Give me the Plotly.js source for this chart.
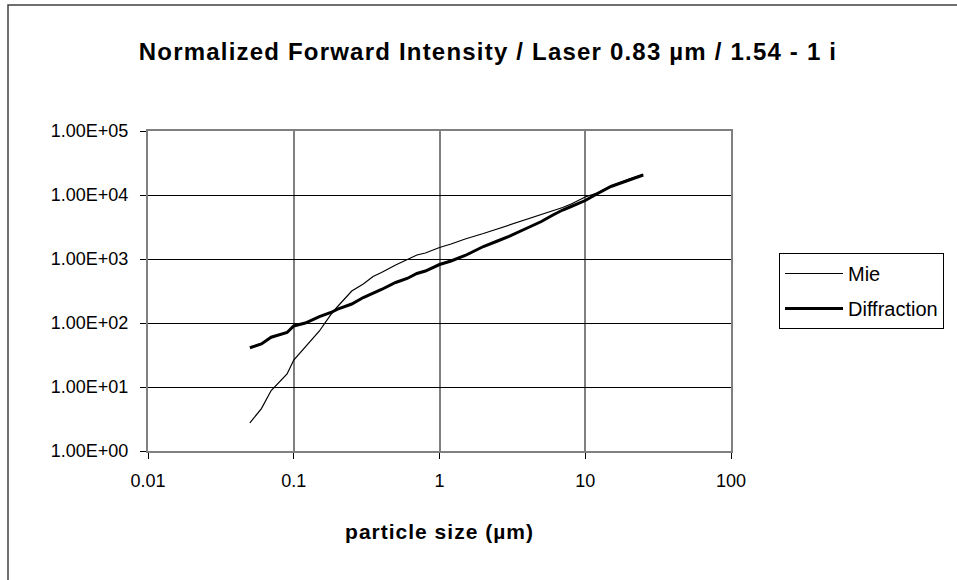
<!DOCTYPE html>
<html>
<head>
<meta charset="utf-8">
<script src="https://cdn.plot.ly/plotly-3.0.1.min.js"></script>
<style>
html,body{margin:0;padding:0;background:#fff;}
#chart{width:957px;height:580px;}
#chart .gtitle{letter-spacing:1.2px;}
#chart .g-xtitle text{letter-spacing:1px;}
</style>
</head>
<body>
<div id="chart"></div>
<script>
// particle size (µm)
var sizes = [0.05, 0.06, 0.07, 0.08, 0.09, 0.1, 0.12, 0.15, 0.18, 0.2, 0.25, 0.3, 0.35, 0.4, 0.5, 0.6, 0.7, 0.8,
             1, 1.2, 1.5, 2, 2.5, 3, 4, 5, 6, 7, 8, 10, 12, 15, 20, 25];
var mie = [2.74, 4.6, 8.8, 12, 16, 26.4, 43, 75, 136, 181, 316, 407, 533, 615, 806, 965, 1155, 1240,
           1513, 1715, 2054, 2500, 2940, 3400, 4140, 4960, 5620, 6380, 7240, 9300, 10730, 13800, 17800, 21000];
var diffraction = [41, 47, 60, 65, 71, 90, 100, 126, 146, 165, 198, 250, 289, 334, 430, 496, 593, 649,
                   820, 931, 1135, 1568, 1910, 2250, 3050, 3850, 4870, 5830, 6610, 8200, 10370, 13580, 17150, 20540];
var xTickVals = [0.01, 0.1, 1, 10, 100];
var xTickText = ['0.01', '0.1', '1', '10', '100'];
var yTickVals = [1, 10, 100, 1000, 10000, 100000];
var yTickText = ['1.00E+00', '1.00E+01', '1.00E+02', '1.00E+03', '1.00E+04', '1.00E+05'];

var font = 'Liberation Sans, Arial, sans-serif';
var traces = [
  {x: sizes, y: mie, type: 'scatter', mode: 'lines', name: 'Mie', legendgroup: 'a',
   line: {color: '#000', width: 1.2}},
  {x: sizes, y: diffraction, type: 'scatter', mode: 'lines', name: 'Diffraction', legendgroup: 'b',
   line: {color: '#000', width: 3}}
];
var layout = {
  width: 957, height: 580,
  margin: {l: 148, r: 226, t: 131, b: 129},
  paper_bgcolor: '#fff', plot_bgcolor: '#fff',
  font: {family: font, color: '#000', size: 18},
  title: {text: '<b>Normalized Forward Intensity / Laser 0.83 µm / 1.54 - 1 i</b>',
          font: {family: font, size: 24, color: '#000'},
          x: 488 / 957, xanchor: 'center', y: 1 - 52 / 580, yanchor: 'middle'},
  xaxis: {type: 'log', range: [-2, 2], tickvals: xTickVals, ticktext: xTickText,
          showgrid: true, gridcolor: '#808080', gridwidth: 2,
          showline: true, linecolor: '#808080', linewidth: 2, mirror: true,
          ticks: 'outside', ticklen: 6, tickcolor: '#000', tickwidth: 1,
          zeroline: false, tickfont: {size: 18}, ticklabelstandoff: 6,
          title: {text: '<b>particle size (µm)</b>', font: {size: 21}, standoff: 35}},
  yaxis: {type: 'log', range: [0, 5], tickvals: yTickVals, ticktext: yTickText,
          showgrid: true, gridcolor: '#000', gridwidth: 1,
          showline: true, linecolor: '#808080', linewidth: 2, mirror: true,
          ticks: 'outside', ticklen: 6, tickcolor: '#000', tickwidth: 1,
          zeroline: false, tickfont: {size: 18}, ticklabelstandoff: 8},
  showlegend: true,
  legend: {x: (779 - 148) / 583, xanchor: 'left', y: (451 - 253) / 320, yanchor: 'top',
           bordercolor: '#000', borderwidth: 1, bgcolor: '#fff',
           font: {size: 20}, itemwidth: 58, tracegroupgap: 6, traceorder: 'grouped'},
  shapes: [
    {type: 'rect', xref: 'paper', yref: 'paper',
     x0: (8 - 148) / 583, x1: (965 - 148) / 583, y0: (451 - 590) / 320, y1: (451 - 5) / 320,
     line: {color: '#404040', width: 1.5}, fillcolor: 'rgba(0,0,0,0)', layer: 'below'}
  ]
};
Plotly.newPlot('chart', traces, layout, {displayModeBar: false, staticPlot: true});
</script>
</body>
</html>
